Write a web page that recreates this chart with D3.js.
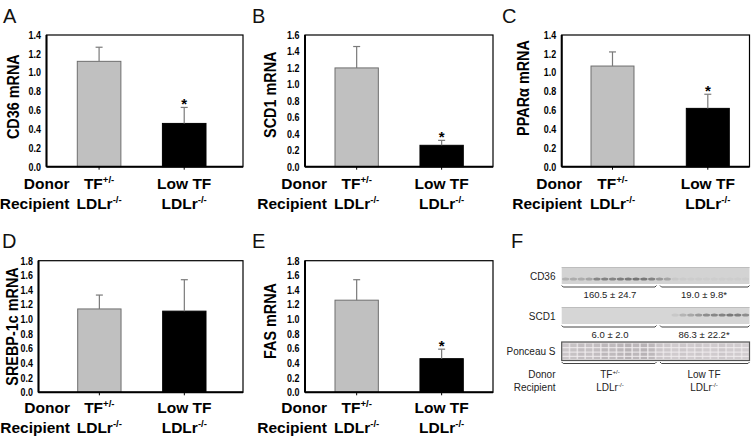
<!DOCTYPE html>
<html><head><meta charset="utf-8">
<script src="https://cdn.jsdelivr.net/npm/d3@7"></script>
<style>body{margin:0;background:#fff}</style>
</head><body>
<svg id="c" width="751" height="441"></svg>
<script>
// ---------- data ----------
const groups = ["TF+/-", "Low TF"];
const donorMain = ["TF", "Low TF"];
const donorSup = ["+/-", ""];
const recipMain = ["LDLr", "LDLr"];
const recipSup = ["-/-", "-/-"];

const cd36Mean = [1.12, 0.46];  const cd36Err = [0.15, 0.17];  const cd36Sig = [false, true];
const scd1Mean = [1.20, 0.26];  const scd1Err = [0.26, 0.06];  const scd1Sig = [false, true];
const pparMean = [1.07, 0.62];  const pparErr = [0.15, 0.15];  const pparSig = [false, true];
const srebpMean = [1.14, 1.11]; const srebpErr = [0.19, 0.43]; const srebpSig = [false, false];
const fasMean = [1.26, 0.46];   const fasErr = [0.28, 0.13];   const fasSig = [false, true];

const ticks14 = [0, 0.2, 0.4, 0.6, 0.8, 1.0, 1.2, 1.4];
const ticks16 = [0, 0.2, 0.4, 0.6, 0.8, 1.0, 1.2, 1.4, 1.6];
const ticks18 = [0, 0.2, 0.4, 0.6, 0.8, 1.0, 1.2, 1.4, 1.6, 1.8];

// Western blot (panel F) lane intensities, 24 lanes
const cd36Lanes = [0.25,0.3,0.3,0.35,0.6,0.62,0.6,0.65,0.68,0.72,0.7,0.62,0.45,0.35,0.08,0.06,0.05,0.05,0.04,0.04,0.04,0.04,0.04,0.04];
const scd1Lanes = [0,0,0,0,0,0,0,0,0,0,0,0,0,0,0.1,0.25,0.35,0.45,0.55,0.6,0.62,0.7,0.66,0.55];
const ponceauLanes = [0.35,0.4,0.45,0.42,0.45,0.5,0.48,0.52,0.56,0.5,0.55,0.5,0.36,0.34,0.3,0.34,0.3,0.34,0.3,0.3,0.34,0.3,0.3,0.28];
const blotQuant = [["160.5 \u00b1 24.7", "19.0 \u00b1 9.8*"], ["6.0 \u00b1 2.0", "86.3 \u00b1 22.2*"]];
const blotRows = ["CD36", "SCD1", "Ponceau S"];

// ---------- drawing ----------
const svg = d3.select("#c");
const FONT = "'Liberation Sans', Arial, sans-serif";
const TICK_SQUEEZE = 0.85, TICK_PAD = 5.5;

const panels = [
  {letter:"A", lp:[3,22.7], ylabel:"CD36 mRNA", mean:cd36Mean, err:cd36Err, sig:cd36Sig, ticks:ticks14,
   box:[46.5,243,35,166.7], bars:[77.3,206], pi:0.488, yl:[19,96.7], rowY:[189,208.5], labR:69.5},
  {letter:"B", lp:[252,22.7], ylabel:"SCD1 mRNA", mean:scd1Mean, err:scd1Err, sig:scd1Sig, ticks:ticks16,
   box:[305,493,35,166.7], bars:[335,463.3], pi:0.49, yl:[275.7,94.7], rowY:[189,208.5], labR:327},
  {letter:"C", lp:[502,22.7], ylabel:"PPAR\u03b1 mRNA", mean:pparMean, err:pparErr, sig:pparSig, ticks:ticks14,
   box:[561.7,749.5,35,166.7], bars:[591,729.3], pi:0.549, yl:[529,88], rowY:[189,208.5], labR:582},
  {letter:"D", lp:[2,248], ylabel:"SREBP-1c mRNA", mean:srebpMean, err:srebpErr, sig:srebpSig, ticks:ticks18,
   box:[38.5,243,260.7,392.3], bars:[77.7,206], pi:0.49, yl:[18,326.5], rowY:[413,433], labR:70},
  {letter:"E", lp:[252,248], ylabel:"FAS mRNA", mean:fasMean, err:fasErr, sig:fasSig, ticks:ticks18,
   box:[305,493,260.7,392.3], bars:[335,463.3], pi:0.49, yl:[276,321], rowY:[413,433], labR:327}
];

function supText(g, x, y, main, sup, size, weight, anchor) {
  const t = g.append("text").attr("x", x).attr("y", y)
    .attr("text-anchor", anchor).attr("font-family", FONT)
    .attr("font-size", size).attr("font-weight", weight).attr("fill", "#000");
  t.append("tspan").text(main);
  if (sup) t.append("tspan").attr("dy", -size*0.38).attr("font-size", size*0.62).text(sup);
  return t;
}

panels.forEach(p => {
  const [fl, fr, ft, fb] = p.box;
  const g = svg.append("g");
  const ymax = p.ticks[p.ticks.length-1];
  const y = d3.scaleLinear().domain([0, ymax]).range([fb, ft]);
  const x = d3.scaleBand().domain(groups).range(p.bars).paddingInner(p.pi).paddingOuter(0);

  g.append("text").attr("x", p.lp[0]).attr("y", p.lp[1]).attr("font-family", FONT)
    .attr("font-size", 20).attr("fill", "#111").text(p.letter);

  const ax = g.append("g").attr("transform", `translate(${fl},0)`)
    .call(d3.axisLeft(y).tickValues(p.ticks).tickFormat(d3.format(".1f")).tickSize(0).tickPadding(TICK_PAD));
  ax.select(".domain").remove();
  ax.selectAll("text").attr("font-family", FONT).attr("font-size", 10.5)
    .attr("font-weight", "bold").attr("fill", "#000")
    .attr("x", -TICK_PAD / TICK_SQUEEZE).attr("transform", `scale(${TICK_SQUEEZE},1)`);

  const fills = ["#c0c0c0", "#000000"];
  const strokes = ["#6e6e6e", "#000000"];
  groups.forEach((grp, i) => {
    const m = p.mean[i], e = p.err[i];
    const cx = x(grp) + x.bandwidth()/2;
    g.append("rect").attr("x", x(grp)).attr("y", y(m)).attr("width", x.bandwidth())
      .attr("height", fb - y(m)).attr("fill", fills[i]).attr("stroke", strokes[i]).attr("stroke-width", 1);
    g.append("line").attr("x1", cx).attr("x2", cx).attr("y1", y(m)).attr("y2", y(m+e))
      .attr("stroke", "#7a7a7a").attr("stroke-width", 1.2);
    g.append("line").attr("x1", cx-3.5).attr("x2", cx+3.5).attr("y1", y(m+e)).attr("y2", y(m+e))
      .attr("stroke", "#7a7a7a").attr("stroke-width", 1.2);
    if (p.sig[i]) {
      g.append("text").attr("x", cx).attr("y", y(m+e) + 1.5).attr("text-anchor", "middle")
        .attr("font-family", FONT).attr("font-weight", "bold").attr("font-size", 15).text("*");
    }
    g.append("line").attr("x1", cx).attr("x2", cx).attr("y1", fb).attr("y2", fb+3)
      .attr("stroke", "#000").attr("stroke-width", 1);
    supText(g, cx, p.rowY[0], donorMain[i], donorSup[i], 15.5, "bold", "middle");
    supText(g, cx, p.rowY[1], recipMain[i], recipSup[i], 15.5, "bold", "middle");
  });

  g.append("rect").attr("x", fl).attr("y", ft).attr("width", fr-fl).attr("height", fb-ft)
    .attr("fill", "none").attr("stroke", "#000").attr("stroke-width", 1.2);
  g.append("line").attr("x1", fl).attr("x2", fl).attr("y1", ft).attr("y2", fb).attr("stroke", "#000").attr("stroke-width", 2);
  g.append("line").attr("x1", fl).attr("x2", fr).attr("y1", fb).attr("y2", fb).attr("stroke", "#000").attr("stroke-width", 2);

  g.append("text").attr("x", p.labR).attr("y", p.rowY[0]).attr("text-anchor", "end")
    .attr("font-family", FONT).attr("font-weight", "bold").attr("font-size", 15.5).text("Donor");
  g.append("text").attr("x", p.labR).attr("y", p.rowY[1]).attr("text-anchor", "end")
    .attr("font-family", FONT).attr("font-weight", "bold").attr("font-size", 15.5).text("Recipient");

  g.append("text").attr("transform", `translate(${p.yl[0]},${p.yl[1]}) rotate(-90) scale(0.9,1)`)
    .attr("text-anchor", "middle").attr("font-family", FONT).attr("font-weight", "bold")
    .attr("font-size", 16).text(p.ylabel);
});

// ---------- panel F : blot ----------
const fg = svg.append("g");
fg.append("text").attr("x", 511).attr("y", 248).attr("font-family", FONT)
  .attr("font-size", 20).attr("fill", "#111").text("F");

const bl = 561.7, br = 749.5;
const lane = d3.scaleBand().domain(d3.range(24)).range([bl, br]);
const strips = [
  {y0: 267, y1: 284, lanes: cd36Lanes, fill: "#d3d3d3", bandY: 279},
  {y0: 307, y1: 324, lanes: scd1Lanes, fill: "#d6d6d6", bandY: 315}
];
strips.forEach((s, si) => {
  fg.append("rect").attr("x", bl).attr("y", s.y0).attr("width", br-bl).attr("height", s.y1-s.y0)
    .attr("fill", s.fill);
  fg.append("line").attr("x1", bl).attr("x2", br).attr("y1", s.y0+0.5).attr("y2", s.y0+0.5)
    .attr("stroke", "#bdbdbd");
  s.lanes.forEach((v, i) => {
    if (v <= 0) return;
    fg.append("ellipse").attr("cx", lane(i) + lane.bandwidth()/2).attr("cy", s.bandY)
      .attr("rx", 3.6).attr("ry", 1.5).attr("fill", "#3a3a3a").attr("opacity", v*0.85);
  });
  const ly = s.y1 + 3;
  [[bl, 656.5], [660, br]].forEach(([a, b]) => {
    fg.append("path").attr("d", `M${a},${ly-1.5} L${a+1.5},${ly} L${b-1.5},${ly} L${b},${ly-1.5}`)
      .attr("fill", "none").attr("stroke", "#444").attr("stroke-width", 1);
  });
  blotQuant[si].forEach((q, k) => {
    fg.append("text").attr("x", k === 0 ? 610 : 704).attr("y", ly + 10.5).attr("text-anchor", "middle")
      .attr("font-family", FONT).attr("font-size", 9.5).attr("fill", "#222").text(q);
  });
});

const py0 = 342, py1 = 360.5;
fg.append("rect").attr("x", bl).attr("y", py0).attr("width", br-bl).attr("height", py1-py0)
  .attr("fill", "#e4e0e2");
ponceauLanes.forEach((v, i) => {
  fg.append("rect").attr("x", lane(i) + 0.8).attr("y", py0 + 1.5).attr("width", lane.bandwidth() - 1.6)
    .attr("height", py1 - py0 - 3).attr("fill", d3.interpolateRgb("#ece8ea", "#8e888c")(v));
});
[0.3, 0.55, 0.78].forEach(f => {
  fg.append("line").attr("x1", bl).attr("x2", br).attr("y1", py0 + f*(py1-py0)).attr("y2", py0 + f*(py1-py0))
    .attr("stroke", "#f2eef0").attr("stroke-width", 1.2).attr("opacity", 0.8);
});
fg.append("rect").attr("x", bl).attr("y", py0).attr("width", br-bl).attr("height", py1-py0)
  .attr("fill", "none").attr("stroke", "#555").attr("stroke-width", 1.2);
[[bl, 656.5], [660, br]].forEach(([a, b]) => {
  fg.append("path").attr("d", `M${a},${py1+1.5} L${a+1.5},${py1+3} L${b-1.5},${py1+3} L${b},${py1+1.5}`)
    .attr("fill", "none").attr("stroke", "#444").attr("stroke-width", 1);
});

const rowLabelY = [279.5, 319.5, 355];
blotRows.forEach((r, i) => {
  fg.append("text").attr("x", 555.5).attr("y", rowLabelY[i]).attr("text-anchor", "end")
    .attr("font-family", FONT).attr("font-size", 10).attr("fill", "#222").text(r);
});
fg.append("text").attr("x", 555.5).attr("y", 377.5).attr("text-anchor", "end")
  .attr("font-family", FONT).attr("font-size", 10).attr("fill", "#222").text("Donor");
fg.append("text").attr("x", 555.5).attr("y", 390.5).attr("text-anchor", "end")
  .attr("font-family", FONT).attr("font-size", 10).attr("fill", "#222").text("Recipient");
const blotCx = [610, 704];
blotCx.forEach((cx, i) => {
  supText(fg, cx, 377.5, donorMain[i], donorSup[i], 10, "normal", "middle").attr("fill", "#222");
  supText(fg, cx, 390.5, recipMain[i], recipSup[i], 10, "normal", "middle").attr("fill", "#222");
});
</script>
</body></html>
